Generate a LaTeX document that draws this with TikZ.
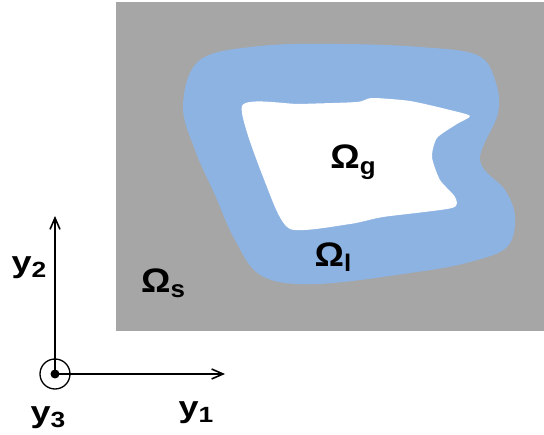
\documentclass[tikz,border=0pt]{standalone}
\usepackage{fontspec}
\setmainfont{Liberation Sans}
\usepackage{xcolor}
\usepackage{graphicx}
\usetikzlibrary{arrows.meta,positioning}

\definecolor{solidgray}{HTML}{A6A6A6}
\definecolor{liquidblue}{HTML}{8DB3E2}
% wide bold labels, as in the drawing
\newcommand{\phaselbl}[1]{\scalebox{1.08}[1]{\textbf{Ω\raisebox{-0.3ex}{\fontsize{24}{24}\selectfont #1}}}}
\newcommand{\axislbl}[1]{\scalebox{1.2}[1]{\textbf{y\raisebox{-0.3ex}{\fontsize{22}{22}\selectfont #1}}}}

\begin{document}
\begin{tikzpicture}[x=1pt, y=-1pt,
    phase/.style={font=\fontsize{34}{34}\selectfont, inner sep=0pt},
    axlbl/.style={font=\fontsize{30}{30}\selectfont, inner sep=0pt},
    axis/.style={-{Straight Barb[length=4mm, width=3.5mm]}, line width=1.6pt}
]
\useasboundingbox (0,0) rectangle (544,435);

% Solid region
\fill[solidgray] (116,2) rectangle (544,331);

% Liquid layer
\fill[liquidblue] plot[smooth cycle, tension=0.6] coordinates {
    (200,60) (260,46) (340,44) (420,47) (477,55) (495,80) (498,113)
    (480,160) (505,190) (515,217) (507,247) (470,262) (417,272)
    (317,284) (262,276) (235,240) (215,195) (195,150) (183,105)};

% Gas region
\fill[white] plot[smooth cycle, tension=0.4] coordinates {
    (242,106) (300,104) (357,102) (372,98) (410,101) (450,110) (470,116)
    (457,124) (437,138) (432,157) (440,180) (455,197) (452,208)
    (383,217) (350,224) (290,229) (267,187)};

% Labels
\node[phase] (omg) at (353,162) {\phaselbl{g}};
\node[phase] (oml) at (333,257) {\phaselbl{l}};
\node[phase] (oms) at (163,283) {\phaselbl{s}};

% Axes
\coordinate (org) at (55,374);
\coordinate (e1) at (225,374);
\coordinate (e2) at (55,216);
\draw[axis] (org) -- (e1);
\draw[axis] (org) -- (e2);
\draw[line width=1.3pt] (org) circle (15);
\fill (org) circle (4.5);
\node[axlbl] (y1) at (196,413) {\axislbl{1}};
\node[axlbl] (y2) at (29,268) {\axislbl{2}};
\node[axlbl] (y3) at (48,418) {\axislbl{3}};
\end{tikzpicture}
\end{document}
